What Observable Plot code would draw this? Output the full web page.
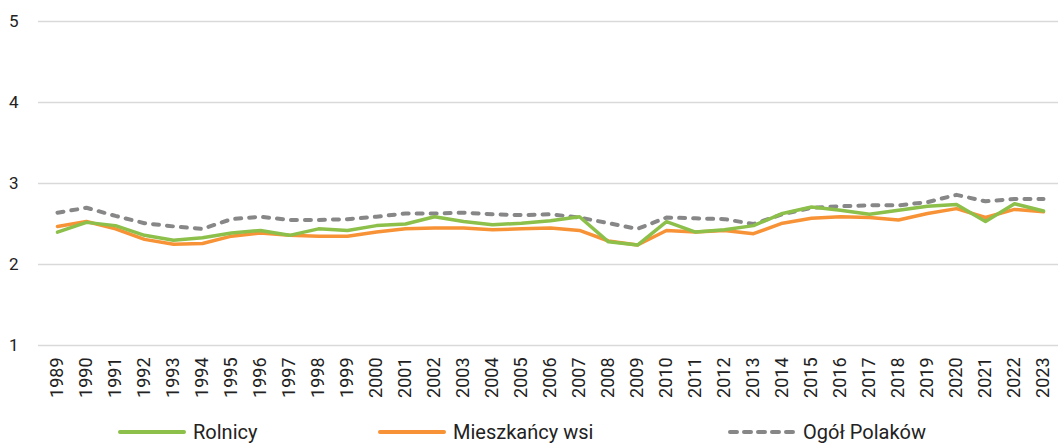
<!DOCTYPE html>
<html>
<head>
<meta charset="utf-8">
<script src="https://cdn.jsdelivr.net/npm/d3@7"></script>
<script src="https://cdn.jsdelivr.net/npm/@observablehq/plot@0.6"></script>
<style>
  body { margin: 0; background: #fff; font-family: Roboto, "Noto Sans", sans-serif; }
  #legend { position: relative; width: 1058px; height: 30px; top: 2px; }
  .item { position: absolute; top: 0; height: 30px; display: flex; align-items: center; font-size: 20px; color: #222; }
  .item svg { margin-right: 7px; }
</style>
</head>
<body>
<div id="chart"></div>
<div id="legend"></div>
<script>
const years = ["1989","1990","1991","1992","1993","1994","1995","1996","1997","1998","1999","2000","2001","2002","2003","2004","2005","2006","2007","2008","2009","2010","2011","2012","2013","2014","2015","2016","2017","2018","2019","2020","2021","2022","2023"];
const rolnicy    = [2.40,2.52,2.48,2.36,2.30,2.33,2.39,2.42,2.36,2.44,2.42,2.48,2.50,2.59,2.53,2.49,2.51,2.54,2.59,2.28,2.24,2.53,2.40,2.43,2.48,2.63,2.71,2.67,2.62,2.67,2.72,2.74,2.53,2.75,2.66];
const mieszkancy = [2.47,2.53,2.44,2.31,2.25,2.26,2.35,2.39,2.36,2.35,2.35,2.40,2.44,2.45,2.45,2.43,2.44,2.45,2.42,2.29,2.24,2.42,2.40,2.42,2.38,2.51,2.57,2.59,2.58,2.55,2.63,2.69,2.58,2.68,2.65];
const ogol       = [2.64,2.70,2.60,2.51,2.47,2.44,2.56,2.59,2.55,2.55,2.56,2.59,2.63,2.63,2.64,2.62,2.61,2.62,2.58,2.51,2.44,2.58,2.57,2.56,2.50,2.62,2.70,2.72,2.73,2.73,2.77,2.86,2.78,2.81,2.81];
const yTicks = [1, 2, 3, 4, 5];
const seriesNames = ["Rolnicy", "Mieszkańcy wsi", "Ogół Polaków"];
const colors = ["#8cc04b", "#f79336", "#878787"];

const table = years.map((year, i) => ({year, rolnicy: rolnicy[i], mieszkancy: mieszkancy[i], ogol: ogol[i]}));

const chart = Plot.plot({
  width: 1058,
  height: 415,
  marginLeft: 38,
  marginRight: 0,
  marginTop: 21,
  marginBottom: 70,
  style: {fontFamily: "Roboto, sans-serif", color: "#222", background: "#fff"},
  x: {type: "point", domain: years, range: [52.6, 1047], padding: 0, label: null},
  y: {domain: [1, 5], label: null},
  marks: [
    Plot.ruleY(yTicks, {stroke: "#d9d9d9", strokeWidth: 1.5}),
    Plot.axisY({ticks: yTicks, tickSize: 0, tickPadding: 20, fontSize: 17, tickFormat: d => String(d), label: null}),
    Plot.axisX({tickRotate: -90, tickSize: 0, tickPadding: 12, fontSize: 18, label: null}),
    Plot.line(table, {x: "year", y: "ogol", stroke: colors[2], strokeWidth: 4, strokeDasharray: "6,8", strokeLinecap: "round"}),
    Plot.line(table, {x: "year", y: "mieszkancy", stroke: colors[1], strokeWidth: 3.5}),
    Plot.line(table, {x: "year", y: "rolnicy", stroke: colors[0], strokeWidth: 3.5}),
  ]
});
document.getElementById("chart").appendChild(chart);

const legend = document.getElementById("legend");
const lefts = [118, 378, 728];
seriesNames.forEach((name, i) => {
  const item = document.createElement("div");
  item.className = "item";
  item.style.left = lefts[i] + "px";
  const dash = i === 2 ? 'stroke-dasharray="7,7" stroke-linecap="round"' : 'stroke-linecap="round"';
  item.innerHTML = `<svg width="68" height="10"><line x1="2" x2="66" y1="5" y2="5" stroke="${colors[i]}" stroke-width="4" ${dash}/></svg><span>${name}</span>`;
  legend.appendChild(item);
});
</script>
</body>
</html>
